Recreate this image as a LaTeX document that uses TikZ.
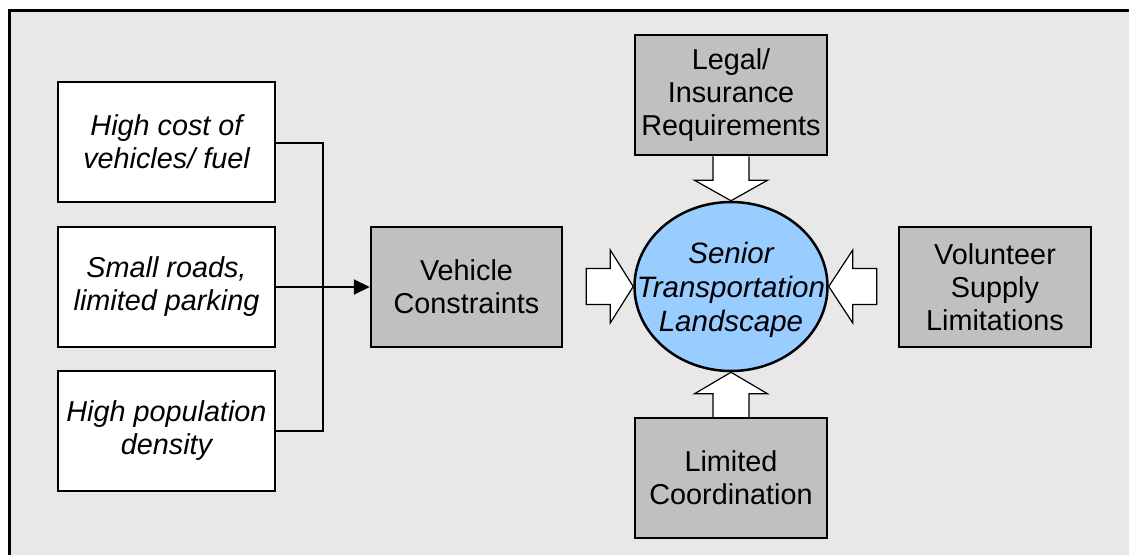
\documentclass[tikz,border=0pt]{standalone}
\usepackage{fontspec}
\setmainfont{Liberation Sans}
\usetikzlibrary{arrows.meta,calc,shapes.geometric}
\definecolor{bgpanel}{HTML}{E8E8E8}
\definecolor{boxgray}{HTML}{C0C0C0}
\definecolor{skyblue}{HTML}{99CCFF}
\begin{document}
\begin{tikzpicture}[x=1pt,y=-1pt,
  every node/.style={font=\fontsize{28.8}{33}\selectfont, align=center, inner sep=0pt},
  factor/.style={draw=black, line width=2.5pt, fill=white, minimum width=217pt, minimum height=120pt, font=\fontsize{28.8}{33}\selectfont\itshape},
  issue/.style={draw=black, line width=2.5pt, fill=boxgray, minimum width=192pt, minimum height=120pt},
  hub/.style={ellipse, draw=black, line width=2.5pt, fill=skyblue, minimum width=193pt, minimum height=169pt},
  hubtext/.style={text=black, font=\fontsize{29.5}{34}\selectfont\itshape},
  blockarrow/.style={draw=black, line width=1.2pt, fill=white, line join=miter},
  link/.style={draw=black, line width=2pt}
]
\useasboundingbox (0,0) rectangle (1129,554);
\begin{scope}
  \clip (0,0) rectangle (1129,554);
  \draw[line width=3pt, fill=bgpanel] (9.5,10.5) rectangle (1140,570);
\end{scope}

% left-hand factors
\node[factor] (cost)    at (166.5,142) {High cost of\\vehicles/ fuel};
\node[factor] (roads)   at (166.5,287) {Small roads,\\limited parking};
\node[factor] (density) at (166.5,431) {High population\\density};

% grouped constraint and surrounding issues
\node[issue, minimum width=191pt] (vehicle) at (466.5,287) {Vehicle\\Constraints};
\node[hub] (hub) at (731,286.5) {};
\node[hubtext] (hublabel) at ($(hub.center)+(0,3)$) {Senior\\Transportation\\Landscape};
\node[issue] (legal)     at (731,95)  {Legal/\\Insurance\\Requirements};
\node[issue] (volunteer) at (995,287) {Volunteer\\Supply\\Limitations};
\node[issue] (coord)     at (731,478) {Limited\\Coordination};

% bracket joining the three factors
\coordinate (bend) at (323,143);
\draw[link] (cost.east |- bend) -- (bend) |- (density.east);
\draw[link, -{Triangle[length=16pt,width=15pt]}] (roads.east) -- (vehicle.west);

% block arrows pointing at the hub
\draw[blockarrow] ($(legal.south)+(-18,0)$) -- ++(0,24) -- ++(-18.5,0) -- (hub.north)
  -- ($(legal.south)+(36.5,24)$) -- ++(-18.5,0) -- ($(legal.south)+(18,0)$);
\draw[blockarrow] ($(coord.north)+(-18,0)$) -- ++(0,-23) -- ++(-18.5,0) -- (hub.south)
  -- ($(coord.north)+(36.5,-23)$) -- ++(-18.5,0) -- ($(coord.north)+(18,0)$);
\draw[blockarrow] ($(hub.west)+(-47,-18)$) -- ++(24,0) -- ++(0,-18.5) -- (hub.west)
  -- ($(hub.west)+(-23,36.5)$) -- ++(0,-18.5) -- ($(hub.west)+(-47,18)$) -- cycle;
\draw[blockarrow] ($(hub.east)+(48,-18)$) -- ++(-24,0) -- ++(0,-18.5) -- (hub.east)
  -- ($(hub.east)+(24,36.5)$) -- ++(0,-18.5) -- ($(hub.east)+(48,18)$) -- cycle;
\end{tikzpicture}
\end{document}
